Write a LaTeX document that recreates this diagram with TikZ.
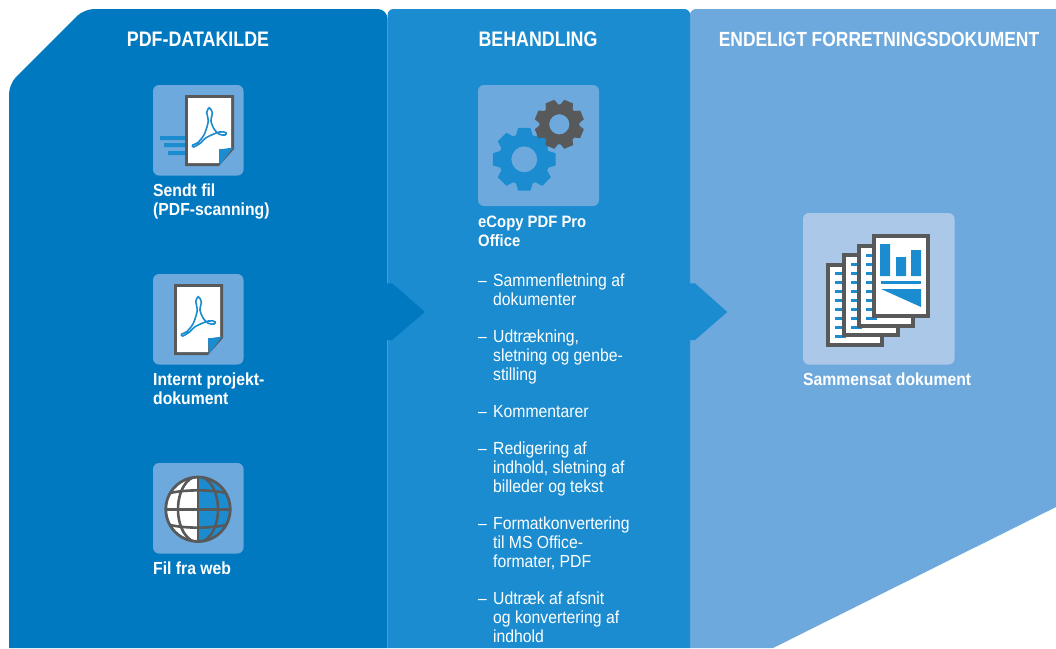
\documentclass[tikz,border=0pt]{standalone}
\usepackage{fontspec}
\setmainfont[FakeStretch=0.9]{Liberation Sans}
\newfontfamily\titlefont[FakeStretch=0.85]{Liberation Sans}
\definecolor{pa}{HTML}{0079C1}
\definecolor{pb}{HTML}{1A8CCF}
\definecolor{pc}{HTML}{6DA9DC}
\definecolor{pd}{HTML}{ABC8E9}
\definecolor{gr}{HTML}{58595B}
\tikzset{
  title/.style={text=white,inner sep=0,anchor=base,font=\titlefont\bfseries\fontsize{21}{24}\selectfont},
  lab/.style={text=white,inner sep=0,anchor=north west,align=left,font=\bfseries\fontsize{17.5}{19}\selectfont},
  item/.style={text=white,inner sep=0,anchor=north west,align=left,font=\fontsize{17.5}{19}\selectfont},
  iconbg/.style={fill=pc,rounded corners=6},
  pdfdoc/.pic={
    \fill[gr] (0,0) -- (49,0) -- (49,54) -- (34,71) -- (0,71) -- cycle;
    \fill[white] (3,3) -- (46,3) -- (46,54) -- (34,54) -- (34,68) -- (3,68) -- cycle;
    \fill[pb] (34,54.5) -- (48,52.5) -- (35,70) -- cycle;
    \draw[pb,line width=1.6] plot[smooth cycle,tension=0.55] coordinates {(24.3,12.7) (21.7,17.7) (23.3,26) (19.3,39.3) (12.7,47.7) (7.7,50) (8.7,52) (16,47.7) (21,42.7) (34.3,37) (41,37.7) (40,40) (34.3,39.3) (29.3,34.3) (26,26) (27.3,17.7)};
  },
  stackdoc/.pic={
    \fill[gr] (0,0) rectangle (58,84);
    \fill[white] (4,4) rectangle (54,80);
  },
  stackrows/.pic={
    \foreach \i in {0,...,7} {\fill[pb] (9,9.3+9*\i) rectangle (20,12+9*\i);}
  }
}
\newcommand{\gearpath}[6]{% x y outer root hole phase
  \begin{scope}[shift={(#1,#2)}]
  \fill[#6,even odd rule] (#5-11:#3) foreach \a in {0,45,...,315} {
    -- (\a+#5-11:#3) -- (\a+#5+11:#3) -- (\a+#5+19:#4) -- (\a+#5+26:#4)
  } -- cycle (0,0) circle[radius=13*#3/32];
  \end{scope}
}
\begin{document}
\begin{tikzpicture}[x=1pt,y=-1pt]
\useasboundingbox (0,0) rectangle (1056,648);
\clip (0,0) rectangle (1056,648);
% panels
\fill[pa,rounded corners=10] (9,648) -- (9,84) -- (84,9) -- (387.6,9) [sharp corners] -- (387.6,648) -- cycle;
\fill[pc,rounded corners=6] (690,648) -- (690,9) [sharp corners] -- (1056,9) -- (1056,507) -- (773,648) -- cycle;
\fill[pb,rounded corners=6] (387.5,648) -- (387.5,9) -- (690.2,9) [sharp corners] -- (690.2,648) -- cycle;
% arrows
\fill[pa] (387,283.3) -- (392,283.3) -- (425,312) -- (392,340) -- (387,340) -- cycle;
\fill[pb] (690,283.3) -- (695,283.3) -- (727.3,312) -- (695,340) -- (690,340) -- cycle;
% titles
\node[title] (t1) at (198,46.5) {PDF-DATAKILDE};
\node[title] (t2) at (538,46.5) {BEHANDLING};
\node[title,font=\titlefont\bfseries\fontsize{20.5}{24}\selectfont] (t3) at (879,46.5) {ENDELIGT FORRETNINGSDOKUMENT};
% icon 1
\fill[iconbg] (153,85) rectangle (243.5,175.5);
\fill[pb] (160,136) rectangle (186,140) (164,143) rectangle (186,147) (168,151) rectangle (186,155);
\pic at (185,95) {pdfdoc};
\node[lab] (l1) at (153,182.7) {\strut Sendt fil\\(PDF-scanning)};
% icon 2
\fill[iconbg] (153,274) rectangle (243.5,364.5);
\pic at (174,284) {pdfdoc};
\node[lab] (l2) at (153,371.5) {\strut Internt projekt-\\dokument};
% icon 3 globe
\fill[iconbg] (153,463) rectangle (243.5,553.5);
\begin{scope}
\clip (198,509.3) circle[radius=33];
\fill[white] (165,475) rectangle (198,543);
\fill[pb] (198,475) rectangle (232,543);
\begin{scope}[gr,line width=2.6]
\draw (198,474) -- (198,544);
\draw (164,509.3) -- (233,509.3);
\draw (198,509.3) ellipse[x radius=20,y radius=33];
\draw (170,493) .. controls (186,489.5) and (210,489.5) .. (226,493);
\draw (170,525) .. controls (186,528.5) and (210,528.5) .. (226,525);
\end{scope}
\end{scope}
\draw[gr,line width=2.8] (198,509.3) circle[radius=32.2];
\node[lab] (l3) at (153,560.5) {\strut Fil fra web};
% gears icon
\fill[iconbg] (478,85) rectangle (599,206);
\gearpath{524.3}{159.3}{32}{25.5}{0}{pb}
\gearpath{559.3}{124.3}{25}{20}{22.5}{gr}
\node[lab,font=\bfseries\fontsize{16.5}{19}\selectfont] (l4) at (478,213.5) {\strut eCopy PDF Pro\\Office};
% list
\newcommand{\dash}{\makebox[15pt][l]{–}}
\newcommand{\ind}{\hspace*{15pt}}
\node[item] (i1) at (478,272.7) {\strut\dash Sammenfletning af\\\ind dokumenter};
\node[item] (i2) at (478,328.7) {\strut\dash Udtrækning,\\\ind sletning og genbe-\\\ind stilling};
\node[item] (i3) at (478,403.7) {\strut\dash Kommentarer};
\node[item] (i4) at (478,440.7) {\strut\dash Redigering af\\\ind indhold, sletning af\\\ind billeder og tekst};
\node[item] (i5) at (478,515.7) {\strut\dash Formatkonvertering\\\ind til MS Office-\\\ind formater, PDF};
\node[item] (i6) at (478,590.7) {\strut\dash Udtræk af afsnit\\\ind og konvertering af\\\ind indhold};
% stack icon
\fill[pd,rounded corners=6] (803,213) rectangle (954.5,364.5);
\pic at (826,263) {stackdoc}; \pic at (826,263) {stackrows};
\pic at (842,253) {stackdoc}; \pic at (842,254) {stackrows};
\pic at (857,243.7) {stackdoc}; \pic at (857,245) {stackrows};
\pic at (872,234) {stackdoc};
\begin{scope}[shift={(872,234)}]
\fill[pb] (8,10) rectangle (18,42) (24,23) rectangle (34,42) (39,16) rectangle (49,42);
\fill[pb] (9,47) rectangle (49,50);
\fill[pb] (9,55) -- (49,55) -- (49,73) -- cycle;
\end{scope}
\node[lab] (l5) at (803,371.5) {\strut Sammensat dokument};
\end{tikzpicture}
\end{document}
